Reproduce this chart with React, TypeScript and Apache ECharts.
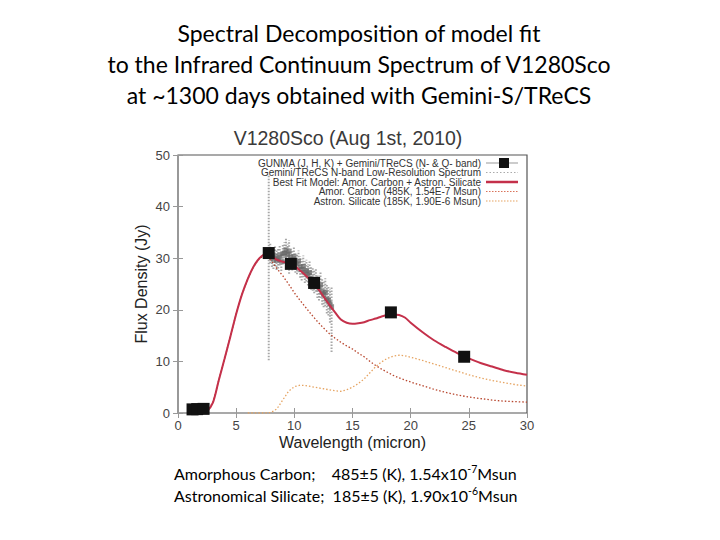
import React, { useEffect, useRef } from "react";
import * as echarts from "echarts";

// Photometry: GUNMA (J, H, K) + Gemini/TReCS (N- & Q- band)
const photX = [1.25, 1.65, 2.2, 7.8, 9.7, 11.7, 18.3, 24.6];
const photY = [0.7, 0.75, 0.8, 31.0, 28.9, 25.2, 19.5, 10.9];

// Gemini/TReCS N-band low-resolution spectrum
const specX = [7.8, 7.93, 8.07, 8.2, 8.34, 8.47, 8.61, 8.74, 8.88, 9.01, 9.15, 9.28, 9.42, 9.55, 9.69, 9.82, 9.96, 10.09, 10.23, 10.36, 10.5, 10.63, 10.77, 10.9, 11.04, 11.17, 11.31, 11.44, 11.58, 11.71, 11.85, 11.98, 12.12, 12.25, 12.39, 12.52, 12.66, 12.79, 12.93, 13.06, 13.2];
const specY = [30.6, 30.9, 30.2, 29.8, 30.4, 29.6, 29.9, 30.5, 29.4, 30.8, 31.0, 31.6, 30.7, 31.2, 30.1, 29.6, 30.3, 29.2, 28.9, 29.4, 28.3, 27.8, 28.4, 27.3, 27.6, 26.8, 27.2, 26.1, 25.9, 25.4, 25.8, 24.6, 24.2, 24.8, 23.5, 23.0, 23.4, 22.1, 21.8, 21.2, 20.6];
const specLo = [10.2, 29.0, 28.3, 27.9, 28.5, 27.7, 28.0, 28.6, 27.5, 28.8, 28.9, 29.4, 28.6, 27.0, 28.1, 27.6, 28.3, 27.2, 26.9, 27.3, 26.2, 25.7, 26.3, 25.2, 25.5, 24.7, 25.0, 23.9, 23.7, 23.2, 23.5, 22.3, 21.8, 22.3, 21.0, 20.5, 20.7, 19.3, 18.9, 17.5, 11.8];
const specHi = [46.0, 32.8, 32.1, 31.7, 32.3, 31.5, 31.8, 32.4, 31.3, 32.8, 33.1, 33.8, 32.8, 33.5, 32.1, 31.6, 32.3, 31.2, 30.9, 31.5, 30.4, 29.9, 30.5, 29.4, 29.7, 28.9, 29.4, 28.3, 28.1, 27.6, 28.1, 26.9, 26.6, 27.3, 26.0, 25.5, 26.1, 24.9, 24.7, 24.0, 24.5];

// Model curves
const modelX = [1.0, 1.5, 2.0, 2.5, 3.0, 3.5, 4.0, 4.5, 5.0, 5.5, 6.0, 6.5, 7.0, 7.5, 8.0, 8.5, 9.0, 9.5, 10.0, 10.5, 11.0, 11.5, 12.0, 12.5, 13.0, 13.5, 14.0, 14.5, 15.0, 15.5, 16.0, 16.5, 17.0, 17.5, 18.0, 18.5, 19.0, 19.5, 20.0, 21.0, 22.0, 23.0, 24.0, 25.0, 26.0, 27.0, 28.0, 29.0, 30.0];
const totalY = [0, 0, 0.05, 0.4, 2.0, 6.3, 10.5, 14.8, 19.2, 23.0, 26.0, 28.4, 30.0, 30.7, 30.4, 29.7, 29.3, 29.1, 28.5, 27.6, 26.6, 25.5, 24.2, 22.6, 21.0, 19.5, 18.1, 17.5, 17.3, 17.4, 17.6, 18.0, 18.3, 18.7, 19.0, 19.1, 19.0, 18.5, 17.5, 15.7, 14.1, 12.8, 11.6, 10.6, 9.7, 9.0, 8.3, 7.8, 7.4];
const carbonY = [0, 0, 0.05, 0.4, 2.0, 6.3, 10.5, 14.8, 19.2, 23.0, 26.0, 28.4, 30.0, 30.5, 29.6, 28.0, 26.6, 25.0, 23.3, 21.8, 20.4, 19.0, 17.7, 16.5, 15.4, 14.5, 13.7, 13.0, 12.4, 11.6, 10.9, 10.0, 9.2, 8.5, 7.9, 7.3, 6.8, 6.4, 6.0, 5.3, 4.6, 4.0, 3.5, 3.1, 2.8, 2.5, 2.3, 2.2, 2.1];
const silicateY = [0, 0, 0, 0, 0, 0, 0, 0, 0, 0, 0, 0, 0, 0, 0.1, 0.8, 2.5, 4.2, 5.1, 5.4, 5.3, 5.1, 4.9, 4.7, 4.5, 4.3, 4.2, 4.5, 5.0, 5.7, 6.6, 7.8, 9.0, 9.9, 10.6, 11.0, 11.2, 11.1, 10.8, 10.2, 9.5, 8.8, 8.1, 7.4, 6.8, 6.3, 5.9, 5.5, 5.2];

const legendLabels = [
  "GUNMA (J, H, K) + Gemini/TReCS (N- & Q- band)",
  "Gemini/TReCS N-band Low-Resolution Spectrum",
  "Best Fit Model: Amor. Carbon + Astron. Silicate",
  "Amor. Carbon (485K, 1.54E-7 Msun)",
  "Astron. Silicate (185K, 1.90E-6 Msun)",
];

const slideTitle = [
  "Spectral Decomposition of model fit",
  "to the Infrared Continuum Spectrum of V1280Sco",
  "at ~1300 days obtained with Gemini-S/TReCS",
];
const chartTitle = "V1280Sco (Aug 1st, 2010)";

const RED = "#c4304a";
const CARBON = "#b8472f";
const SILICATE = "#e6a462";

export default function App() {
  const ref = useRef<HTMLDivElement>(null);
  useEffect(() => {
    const chart = echarts.init(ref.current!, null, { renderer: "svg" });

    const legendY = [163, 172.5, 182, 191.5, 201];
    const legendGraphics: any[] = [];
    legendLabels.forEach((t, i) => {
      legendGraphics.push({
        type: "text",
        x: 481,
        y: legendY[i],
        style: {
          text: t,
          font: "10px 'Liberation Sans', Arial, sans-serif",
          fill: "#333",
          textAlign: "right",
          textVerticalAlign: "middle",
        },
        z: 10,
      });
    });
    legendGraphics.push(
      { type: "line", shape: { x1: 486, y1: legendY[0], x2: 518, y2: legendY[0] }, style: { stroke: "#aaa", lineWidth: 1.2 }, z: 10 },
      { type: "rect", shape: { x: 499, y: legendY[0] - 5, width: 10, height: 10 }, style: { fill: "#111" }, z: 11 },
      { type: "line", shape: { x1: 486, y1: legendY[1], x2: 518, y2: legendY[1] }, style: { stroke: "#aaa", lineWidth: 1, lineDash: [1.5, 2] }, z: 10 },
      { type: "line", shape: { x1: 486, y1: legendY[2], x2: 518, y2: legendY[2] }, style: { stroke: RED, lineWidth: 2.5 }, z: 10 },
      { type: "line", shape: { x1: 486, y1: legendY[3], x2: 518, y2: legendY[3] }, style: { stroke: "#d9735a", lineWidth: 1.2, lineDash: [1.5, 1.5] }, z: 10 },
      { type: "line", shape: { x1: 486, y1: legendY[4], x2: 518, y2: legendY[4] }, style: { stroke: SILICATE, lineWidth: 1.2, lineDash: [1.5, 1.5] }, z: 10 }
    );

    const titleGraphics = slideTitle.map((t, i) => ({
      type: "text",
      x: 359,
      y: 33 + i * 31,
      style: {
        text: t,
        font: "23px Lato, 'Open Sans', sans-serif",
        fill: "#000",
        textAlign: "center",
        textVerticalAlign: "middle",
      },
    }));

    const bottomRich = {
      a: { fontSize: 16, fontFamily: "Lato, 'Open Sans', sans-serif", color: "#000", lineHeight: 20 },
      s: { fontSize: 10.5, fontFamily: "Lato, 'Open Sans', sans-serif", color: "#000", verticalAlign: "top", lineHeight: 20 },
    };

    const option: any = {
      animation: false,
      backgroundColor: "#fff",
      grid: {
        left: 178,
        top: 155,
        width: 349,
        height: 258,
        show: true,
        borderColor: "#555",
        borderWidth: 1.2,
      },
      xAxis: [
        {
          type: "value",
          min: 0,
          max: 30,
          interval: 5,
          position: "bottom",
          axisLine: { show: false },
          axisTick: { show: true, inside: true, length: 5, lineStyle: { color: "#999" } },
          splitLine: { show: false },
          axisLabel: { fontSize: 13, color: "#444", margin: 6, fontFamily: "'Liberation Sans', Arial, sans-serif" },
          name: "Wavelength (micron)",
          nameLocation: "middle",
          nameGap: 21,
          nameTextStyle: { fontSize: 16, color: "#222", fontFamily: "'Liberation Sans', Arial, sans-serif" },
        },
        {
          type: "value",
          min: 0,
          max: 30,
          interval: 5,
          position: "top",
          axisLine: { show: false },
          axisTick: { show: true, inside: true, length: 5, lineStyle: { color: "#999" } },
          splitLine: { show: false },
          axisLabel: { show: false },
        },
      ],
      yAxis: [
        {
          type: "value",
          min: 0,
          max: 50,
          interval: 10,
          position: "left",
          axisLine: { show: false },
          axisTick: { show: true, inside: true, length: 5, lineStyle: { color: "#999" } },
          splitLine: { show: false },
          axisLabel: { fontSize: 13, color: "#444", margin: 8, fontFamily: "'Liberation Sans', Arial, sans-serif" },
          name: "Flux Density (Jy)",
          nameLocation: "middle",
          nameGap: 29,
          nameTextStyle: { fontSize: 16, color: "#222", fontFamily: "'Liberation Sans', Arial, sans-serif" },
        },
        {
          type: "value",
          min: 0,
          max: 50,
          interval: 10,
          position: "right",
          axisLine: { show: false },
          axisTick: { show: true, inside: true, length: 5, lineStyle: { color: "#999" } },
          splitLine: { show: false },
          axisLabel: { show: false },
        },
      ],
      series: [
        {
          type: "custom",
          name: "spectrum errors",
          xAxisIndex: 0,
          yAxisIndex: 0,
          z: 1,
          data: specX.map((x, i) => [x, specLo[i], specHi[i]]),
          renderItem: (params: any, api: any) => {
            const x = api.value(0);
            const p1 = api.coord([x, api.value(1)]);
            const p2 = api.coord([x, api.value(2)]);
            return {
              type: "line",
              shape: { x1: p1[0], y1: p1[1], x2: p2[0], y2: p2[1] },
              style: { stroke: "#8a8a8a", lineWidth: 2, lineDash: [1.5, 1.5], opacity: 0.75 },
            };
          },
        },
        {
          type: "scatter",
          name: "spectrum",
          z: 2,
          symbol: "rect",
          symbolSize: 5,
          itemStyle: { color: "#666", opacity: 0.7 },
          data: specX.map((x, i) => [x, specY[i]]),
        },
        {
          type: "line",
          name: "silicate",
          z: 3,
          showSymbol: false,
          symbol: "none",
          lineStyle: { color: SILICATE, width: 1.3, type: [1.5, 2] },
          data: modelX.map((x, i) => [x, silicateY[i]]).filter((d) => d[0] >= 6),
        },
        {
          type: "line",
          name: "carbon",
          z: 3,
          showSymbol: false,
          symbol: "none",
          lineStyle: { color: CARBON, width: 1.3, type: [1.5, 2] },
          data: modelX.map((x, i) => [x, carbonY[i]]),
        },
        {
          type: "line",
          name: "total",
          z: 4,
          showSymbol: false,
          symbol: "none",
          smooth: 0.3,
          lineStyle: { color: RED, width: 2 },
          data: modelX.map((x, i) => [x, totalY[i]]),
        },
        {
          type: "scatter",
          name: "photometry",
          z: 5,
          symbol: "rect",
          symbolSize: 12,
          itemStyle: { color: "#111", opacity: 1 },
          data: photX.map((x, i) => [x, photY[i]]),
        },
      ],
      graphic: [
        ...titleGraphics,
        {
          type: "text",
          x: 348,
          y: 138,
          style: {
            text: chartTitle,
            font: "19.5px 'Liberation Sans', Arial, sans-serif",
            fill: "#3a3a3a",
            textAlign: "center",
            textVerticalAlign: "middle",
          },
        },
        ...legendGraphics,
        {
          type: "text",
          x: 174,
          y: 463,
          style: {
            text: "{a|Amorphous Carbon;    485±5 (K), 1.54x10}{s|-7}{a|Msun}",
            rich: bottomRich,
          },
        },
        {
          type: "text",
          x: 174,
          y: 485,
          style: {
            text: "{a|Astronomical Silicate;  185±5 (K), 1.90x10}{s|-6}{a|Msun}",
            rich: bottomRich,
          },
        },
      ],
    };
    chart.setOption(option);
    return () => chart.dispose();
  }, []);
  return (
    <div
      ref={ref}
      style={{ position: "absolute", left: 0, top: 0, width: 720, height: 540, background: "#fff" }}
    />
  );
}
